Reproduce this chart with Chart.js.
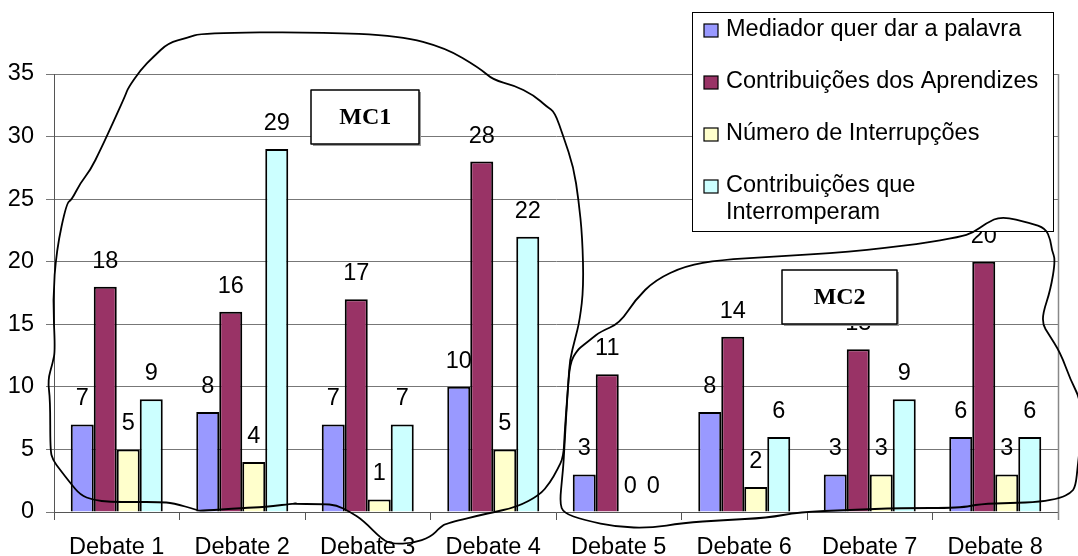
<!DOCTYPE html>
<html lang="pt">
<head>
<meta charset="UTF-8">
<title>Debates - MC1 e MC2</title>
<script src="https://cdn.jsdelivr.net/npm/chart.js@4.4.1/dist/chart.umd.min.js"></script>
<style>
  body { margin: 0; background: #fff; }
  #wrap { width: 1078px; height: 556px; }
</style>
</head>
<body>
<div id="wrap"><canvas id="myChart" width="1078" height="556"></canvas></div>
<script>
const debates = ['Debate 1', 'Debate 2', 'Debate 3', 'Debate 4', 'Debate 5', 'Debate 6', 'Debate 7', 'Debate 8'];
const mediador = [7, 8, 7, 10, 3, 8, 3, 6];
const aprendizes = [18, 16, 17, 28, 11, 14, 13, 20];
const interrupcoes = [5, 4, 1, 5, 0, 2, 3, 3];
const interromperam = [9, 29, 7, 22, 0, 6, 9, 6];

const nomes = [
  ['Mediador quer dar a palavra'],
  ['Contribuições dos Aprendizes'],
  ['Número de Interrupções'],
  ['Contribuições que', 'Interromperam']
];
const cores = ['#9999FF', '#993366', '#FFFFCC', '#CCFFFF'];

const yMin = 0;
const yMax = 35;
const yStep = 5;

// contornos feitos à mão, em [posição de categoria, valor]
const contornoMC1 = [
  [1.46, 0.72], [1.17, 0.40], [1.01, 0.32], [0.66, 0.08], [0.64, 0.16], [0.45, 0.72], [0.34, 0.80],
  [0.13, 0.80], [-0.05, 0.80], [-0.19, 0.96], [-0.29, 1.36], [-0.37, 2.32], [-0.45, 3.36], [-0.51, 4.16],
  [-0.53, 4.95], [-0.53, 8.95], [-0.55, 10.55], [-0.51, 11.91], [-0.49, 12.95], [-0.51, 16.94],
  [-0.48, 20.94], [-0.40, 24.69], [-0.36, 24.93], [-0.29, 26.29], [-0.21, 27.33], [-0.13, 28.93],
  [-0.03, 31.09], [0.07, 33.32], [0.09, 33.88], [0.19, 35.32], [0.29, 36.36], [0.41, 37.48],
  [0.56, 37.88], [0.68, 38.28], [1.60, 38.36], [2.26, 38.04], [2.62, 37.08], [2.89, 35.48],
  [3.00, 34.52], [3.16, 34.12], [3.32, 33.32], [3.43, 32.36], [3.49, 31.96], [3.56, 29.97],
  [3.64, 27.57], [3.68, 24.93], [3.71, 21.98], [3.72, 17.98], [3.69, 15.34], [3.65, 13.74],
  [3.61, 12.15], [3.60, 10.55], [3.57, 6.55], [3.56, 4.40], [3.51, 3.36], [3.45, 2.32], [3.37, 1.36],
  [3.19, 0.40], [2.97, -0.08], [2.63, -0.88], [2.58, -1.20], [2.50, -2.00], [2.36, -2.48],
  [2.20, -2.56], [2.12, -2.24], [1.96, -0.64], [1.86, 0], [1.75, 0.56], [1.64, 0.64], [1.38, 0.64]
];
const contornoMC2 = [
  [3.79, 13.90], [3.72, 13.35], [3.67, 12.95], [3.61, 11.91], [3.59, 9.19], [3.57, 5.75], [3.56, 3.92],
  [3.55, 2.80], [3.53, 0.72], [3.56, -0.08], [3.72, -0.64], [3.99, -1.20], [4.25, -1.28], [4.51, -0.88],
  [4.83, -0.64], [5.18, -0.48], [5.44, 0], [5.84, 0.16], [6.24, 0.32], [6.72, 0.32], [6.88, 0.64],
  [7.12, 0.72], [7.36, 0.80], [7.52, 1.12], [7.60, 1.52], [7.64, 2.00], [7.66, 3.92], [7.69, 6.55],
  [7.68, 8.95], [7.60, 10.55], [7.52, 12.71], [7.42, 14.30], [7.38, 14.94], [7.38, 15.90],
  [7.44, 17.74], [7.48, 20.14], [7.45, 20.94], [7.44, 21.74], [7.40, 22.69], [7.28, 23.09],
  [7.05, 23.65], [6.93, 23.09], [6.82, 22.30], [6.72, 21.98], [6.40, 21.42], [5.84, 20.78],
  [5.21, 20.38], [4.81, 20.14], [4.53, 19.66], [4.29, 18.54], [4.13, 16.94], [4.01, 15.10], [3.85, 14.38]
];
const caixas = [
  { texto: 'MC1', c: 1.98, v: 31.57, w: 108, h: 54 },
  { texto: 'MC2', c: 5.76, v: 17.18, w: 115, h: 54 }
];

const fonte = '"Liberation Sans", Arial, sans-serif';

// valores em cima de cada barra
const rotulos = {
  id: 'rotulos',
  afterDatasetsDraw(chart) {
    const ctx = chart.ctx;
    ctx.save();
    ctx.font = '23.5px ' + fonte;
    ctx.fillStyle = '#000';
    ctx.textAlign = 'center';
    ctx.textBaseline = 'alphabetic';
    chart.data.datasets.forEach((ds, i) => {
      chart.getDatasetMeta(i).data.forEach((bar, j) => {
        ctx.fillText(String(ds.data[j]), bar.x, bar.y - 19);
      });
    });
    ctx.restore();
  }
};

function desenhaContorno(chart, pts) {
  const ctx = chart.ctx;
  const xs = chart.scales.x, ys = chart.scales.y;
  const p = pts.map(([c, v]) => [xs.getPixelForValue(c), ys.getPixelForValue(v)]);
  const n = p.length;
  ctx.beginPath();
  const mid = (a, b) => [(a[0] + b[0]) / 2, (a[1] + b[1]) / 2];
  let m = mid(p[n - 1], p[0]);
  ctx.moveTo(m[0], m[1]);
  for (let i = 0; i < n; i++) {
    const q = mid(p[i], p[(i + 1) % n]);
    ctx.quadraticCurveTo(p[i][0], p[i][1], q[0], q[1]);
  }
  ctx.closePath();
  ctx.stroke();
}

const extras = {
  id: 'extras',
  afterDraw(chart) {
    const ctx = chart.ctx;
    const area = chart.chartArea;
    ctx.save();

    // borda direita da área do gráfico
    ctx.strokeStyle = '#888';
    ctx.lineWidth = 1.5;
    ctx.beginPath();
    ctx.moveTo(area.right + 0.5, area.top);
    ctx.lineTo(area.right + 0.5, area.bottom + 8);
    ctx.stroke();

    // legenda
    const lx = 692, ly = 12, lw = 361, lh = 219;
    ctx.fillStyle = '#fff';
    ctx.fillRect(lx, ly, lw, lh);
    ctx.strokeStyle = '#000';
    ctx.lineWidth = 1;
    ctx.strokeRect(lx + 0.5, ly + 0.5, lw, lh);
    ctx.font = '23.5px ' + fonte;
    ctx.textBaseline = 'middle';
    ctx.textAlign = 'left';
    chart.data.datasets.forEach((ds, i) => {
      const cy = 30 + i * 52;
      ctx.fillStyle = ds.backgroundColor;
      ctx.fillRect(704, cy - 6, 14, 13);
      ctx.strokeStyle = '#000';
      ctx.lineWidth = 1.2;
      ctx.strokeRect(704, cy - 6, 14, 13);
      ctx.fillStyle = '#000';
      nomes[i].forEach((linha, k) => ctx.fillText(linha, 726, cy + k * 27));
    });

    // contornos MC1 e MC2
    ctx.strokeStyle = '#000';
    ctx.lineWidth = 1.8;
    ctx.lineJoin = 'round';
    desenhaContorno(chart, contornoMC1);
    desenhaContorno(chart, contornoMC2);

    // caixas com os nomes
    caixas.forEach(b => {
      const cx = chart.scales.x.getPixelForValue(b.c);
      const cy = chart.scales.y.getPixelForValue(b.v);
      const x0 = Math.round(cx - b.w / 2), y0 = Math.round(cy - b.h / 2);
      ctx.fillStyle = '#999';
      ctx.fillRect(x0 + 2, y0 + 2, b.w, b.h);
      ctx.fillStyle = '#fff';
      ctx.fillRect(x0, y0, b.w, b.h);
      ctx.strokeStyle = '#000';
      ctx.lineWidth = 1.5;
      ctx.strokeRect(x0, y0, b.w, b.h);
      ctx.fillStyle = '#000';
      ctx.font = 'bold 24px "Liberation Serif", "Times New Roman", serif';
      ctx.textAlign = 'center';
      ctx.textBaseline = 'middle';
      ctx.fillText(b.texto, cx, cy + 1);
    });
    ctx.restore();
  }
};

const series = [mediador, aprendizes, interrupcoes, interromperam];

const config = {
  type: 'bar',
  data: {
    labels: debates,
    datasets: series.map((valores, i) => ({
      label: nomes[i].join(' '),
      data: valores,
      backgroundColor: cores[i],
      borderColor: '#000',
      borderWidth: 2,
      categoryPercentage: 0.733,
      barPercentage: 1
    }))
  },
  options: {
    responsive: false,
    animation: false,
    layout: { padding: { top: 74, right: 20, left: 0, bottom: 0 } },
    plugins: {
      legend: { display: false },
      tooltip: { enabled: false }
    },
    scales: {
      x: {
        grid: { offset: true, drawOnChartArea: false, tickLength: 8, color: '#555' },
        border: { color: '#555', width: 1 },
        ticks: { color: '#000', font: { family: fonte, size: 23.5 }, padding: 13, maxRotation: 0 },
        afterFit(scale) { scale.height = 44; }
      },
      y: {
        min: yMin,
        max: yMax,
        grid: { color: '#777', tickLength: 8 },
        border: { color: '#555', width: 1 },
        ticks: { stepSize: yStep, color: '#000', font: { family: fonte, size: 23.5 }, padding: 12 },
        afterFit(scale) { scale.width = 54; }
      }
    }
  },
  plugins: [rotulos, extras]
};

const chart = new Chart(document.getElementById('myChart').getContext('2d'), config);
</script>
</body>
</html>
